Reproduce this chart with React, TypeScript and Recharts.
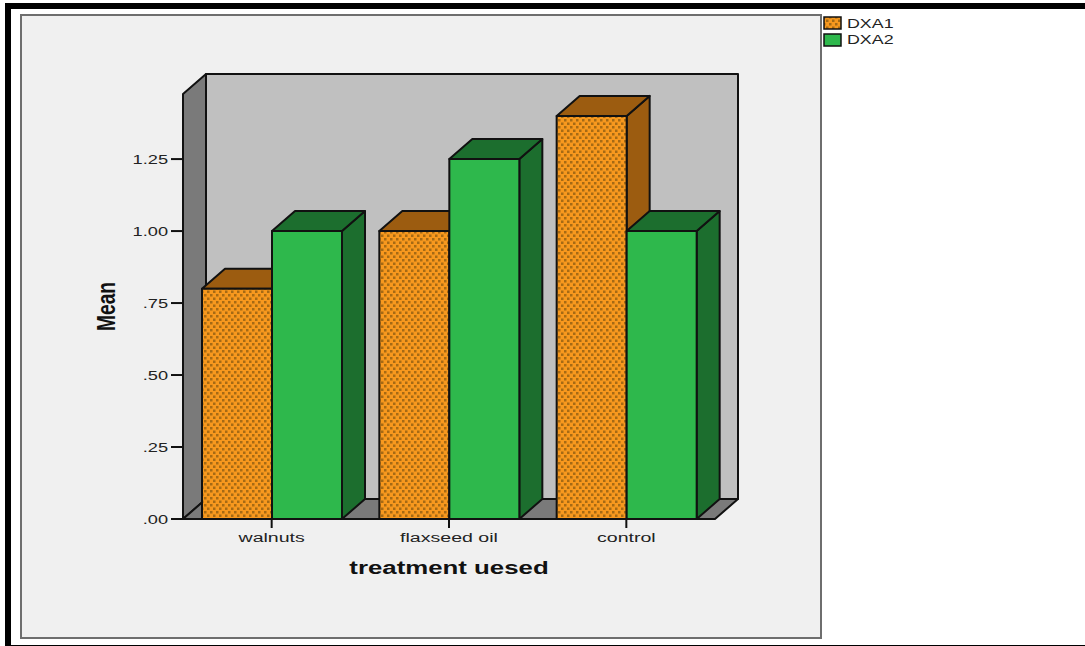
import React from "react";
import { BarChart, Bar, XAxis, YAxis, Legend, Customized, usePlotArea } from "recharts";

const treatments = ["walnuts", "flaxseed oil", "control"];
const dxa1 = [0.8, 1.0, 1.4];
const dxa2 = [1.0, 1.25, 1.0];
const yTicks = [0, 0.25, 0.5, 0.75, 1.0, 1.25];

const chartData = treatments.map((treatment, i) => ({
  treatment,
  DXA1: dxa1[i],
  DXA2: dxa2[i],
}));

const DEPTH_X = 23;
const DEPTH_Y = 20;
const OUTLINE = "#111";
const TEXT = "#222";
const SANS = "Liberation Sans";

const formatMean = (v: number) => (v < 1 ? v.toFixed(2).replace(/^0/, "") : v.toFixed(2));

// back wall, side wall and floor of the 3D box
const Walls = () => {
  const plot = usePlotArea();
  if (!plot) return null;
  const { x, y, width, height } = plot;
  const left = x;
  const right = x + width;
  const top = y;
  const bottom = y + height;
  const pts = (list: number[][]) => list.map((p) => p.join(",")).join(" ");
  return (
    <g stroke={OUTLINE} strokeWidth={2} strokeLinejoin="round">
      <rect x={left + DEPTH_X} y={top - DEPTH_Y} width={width} height={height} fill="#c0c0c0" />
      <polygon
        fill="#7a7a7a"
        points={pts([
          [left, top],
          [left + DEPTH_X, top - DEPTH_Y],
          [left + DEPTH_X, bottom - DEPTH_Y],
          [left, bottom],
        ])}
      />
      <polygon
        fill="#7a7a7a"
        points={pts([
          [left, bottom],
          [left + DEPTH_X, bottom - DEPTH_Y],
          [right + DEPTH_X, bottom - DEPTH_Y],
          [right, bottom],
        ])}
      />
    </g>
  );
};

const Bar3D = ({ x, y, width, height, front, top, side }: any) => {
  const r = x + width;
  const b = y + height;
  return (
    <g stroke={OUTLINE} strokeWidth={2} strokeLinejoin="round">
      <polygon
        fill={side}
        points={`${r},${y} ${r + DEPTH_X},${y - DEPTH_Y} ${r + DEPTH_X},${b - DEPTH_Y} ${r},${b}`}
      />
      <polygon
        fill={top}
        points={`${x},${y} ${x + DEPTH_X},${y - DEPTH_Y} ${r + DEPTH_X},${y - DEPTH_Y} ${r},${y}`}
      />
      <rect x={x} y={y} width={width} height={height} fill={front} />
    </g>
  );
};

// the category and value labels are wide, so the glyphs get stretched sideways
const CategoryTick = ({ x, y, payload }: any) => (
  <text
    transform={`translate(${x},${y + 12}) scale(1.45,1)`}
    textAnchor="middle"
    fontFamily={SANS}
    fontSize={13.5}
    fill={TEXT}
  >
    {payload.value}
  </text>
);

const ValueTick = ({ x, y, payload }: any) => (
  <text
    transform={`translate(${x - 1},${y + 5}) scale(1.35,1)`}
    textAnchor="end"
    fontFamily={SANS}
    fontSize={13.5}
    fill={TEXT}
  >
    {formatMean(payload.value)}
  </text>
);

const CategoryTitle = ({ viewBox }: any) => (
  <text
    transform={`translate(${viewBox.x + viewBox.width / 2},${viewBox.y + 55}) scale(1.36,1)`}
    textAnchor="middle"
    fontFamily={SANS}
    fontWeight={700}
    fontSize={19}
    fill="#111"
  >
    treatment uesed
  </text>
);

const ValueTitle = ({ viewBox }: any) => (
  <text
    transform={`translate(${viewBox.x + 115},${viewBox.y + viewBox.height / 2}) rotate(-90) scale(0.74,1)`}
    textAnchor="middle"
    fontFamily={SANS}
    fontWeight={700}
    fontSize={26}
    fill="#111"
  >
    Mean
  </text>
);

const Swatch = ({ fill }: { fill: string }) => (
  <svg width={20} height={14} style={{ display: "block" }}>
    <rect x={1} y={1} width={17} height={12} fill={fill} stroke={OUTLINE} strokeWidth={1.5} />
  </svg>
);

const legendItems = [
  { name: "DXA1", fill: "url(#dots)" },
  { name: "DXA2", fill: "#2eb84c" },
];

const LegendBox = () => (
  <div style={{ fontFamily: SANS, fontSize: 13.5, color: TEXT }}>
    {legendItems.map((item) => (
      <div key={item.name} style={{ display: "flex", alignItems: "center", height: 16.5 }}>
        <Swatch fill={item.fill} />
        <span style={{ display: "inline-block", transform: "scale(1.32,1)", transformOrigin: "left", marginLeft: 4 }}>
          {item.name}
        </span>
      </div>
    ))}
  </div>
);

const App = () => {
  return (
    <div style={{ position: "absolute", left: 0, top: 0, width: 1085, height: 646, background: "#fff", overflow: "hidden" }}>
      {/* heavy frame round the chart output */}
      <div style={{ position: "absolute", left: 5, top: 3, width: 1080, height: 6, background: "#000" }} />
      <div style={{ position: "absolute", left: 5, top: 3, width: 6, height: 643, background: "#000" }} />
      <div style={{ position: "absolute", left: 5, top: 645, width: 1080, height: 1, background: "#000" }} />
      <div
        style={{
          position: "absolute",
          left: 20,
          top: 14,
          width: 802,
          height: 625,
          background: "#f0f0f0",
          border: "2px solid #6e6e6e",
          boxSizing: "border-box",
        }}
      />
      <div style={{ position: "absolute", left: 0, top: 0 }}>
        <BarChart
          width={1085}
          height={646}
          data={chartData}
          margin={{ top: 94, right: 270, bottom: 0, left: 0 }}
          barSize={70}
          barGap={0}
        >
          <defs>
            <pattern id="dots" width={6} height={7} patternUnits="userSpaceOnUse">
              <rect width={6} height={7} fill="#f7981e" />
              <rect x={0} y={0} width={2.5} height={2.5} fill="#a66a14" />
              <rect x={3} y={3.5} width={2.5} height={2.5} fill="#a66a14" />
            </pattern>
          </defs>
          <Customized component={Walls} />
          <XAxis
            dataKey="treatment"
            height={127}
            stroke={OUTLINE}
            strokeWidth={2}
            tickLine={{ stroke: OUTLINE, strokeWidth: 2 }}
            tickSize={9}
            tick={<CategoryTick />}
            label={<CategoryTitle />}
          />
          <YAxis
            width={183}
            domain={[0, 1.476]}
            ticks={yTicks}
            stroke={OUTLINE}
            strokeWidth={2}
            tickLine={{ stroke: OUTLINE, strokeWidth: 2 }}
            tickSize={12}
            tick={<ValueTick />}
            label={<ValueTitle />}
          />
          <Legend
            verticalAlign="top"
            align="right"
            layout="vertical"
            wrapperStyle={{ position: "absolute", left: 823, top: 15, width: 100, right: "auto" }}
            content={<LegendBox />}
          />
          <Bar
            dataKey="DXA1"
            isAnimationActive={false}
            shape={(props: any) => <Bar3D {...props} front="url(#dots)" top="#9c5c10" side="#9c5c10" />}
          />
          <Bar
            dataKey="DXA2"
            isAnimationActive={false}
            shape={(props: any) => <Bar3D {...props} front="#2eb84c" top="#1c6e2e" side="#1c6e2e" />}
          />
        </BarChart>
      </div>
    </div>
  );
};

export default App;
